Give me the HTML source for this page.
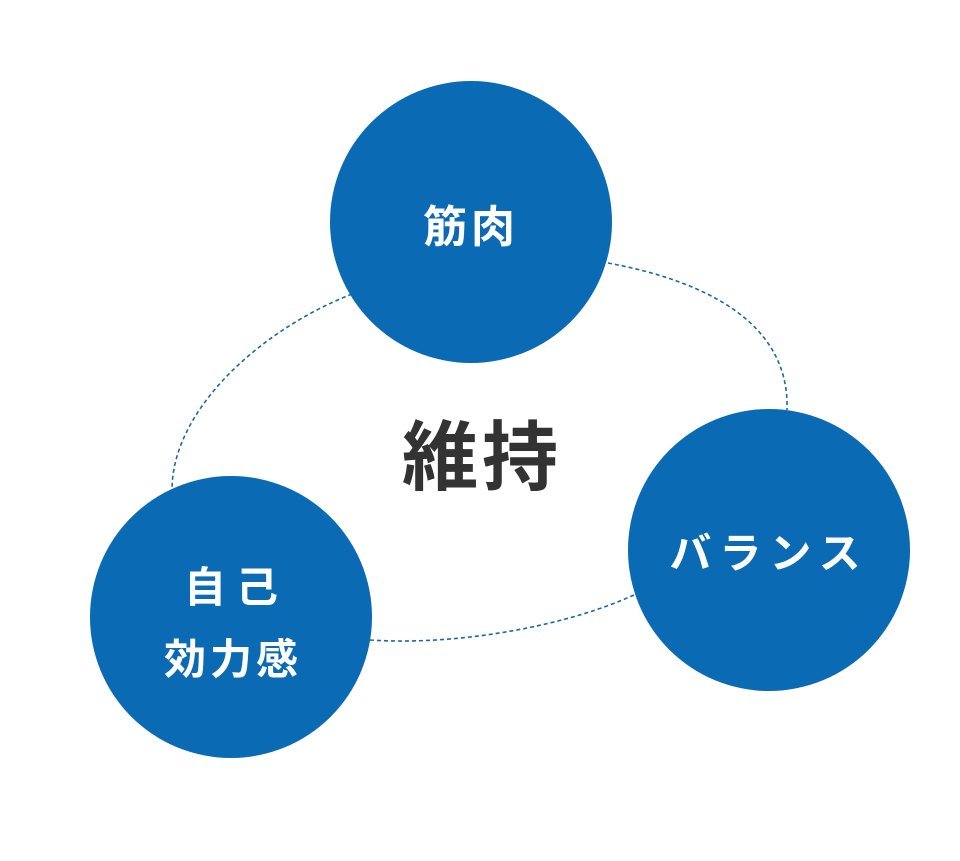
<!DOCTYPE html>
<html><head><meta charset="utf-8"><style>
html,body{margin:0;padding:0;background:#fff;}
svg text{font-family:"Liberation Sans","Noto Sans CJK JP",sans-serif;font-weight:bold;}
</style></head><body>
<svg width="960" height="856" viewBox="0 0 960 856" xmlns="http://www.w3.org/2000/svg">
<g fill="none" stroke="#1c68a6" stroke-width="1.6" stroke-dasharray="4 3">
<path d="M 352,294 C 260,330 172,410 172,490"/>
<path d="M 370,640 C 460,646 570,625 636,594"/>
<path d="M 608,263 C 700,280 790,320 787,410"/>
</g>
<circle cx="471" cy="222" r="141" fill="#0a6ab3"/>
<circle cx="769" cy="550" r="141" fill="#0a6ab3"/>
<circle cx="231" cy="617" r="141" fill="#0a6ab3"/>
<text x="482" y="484" font-size="76" fill="#333" text-anchor="middle" letter-spacing="4">維持</text>
<text x="471" y="242" font-size="44" fill="#fff" text-anchor="middle" letter-spacing="4">筋肉</text>
<text x="769" y="568" font-size="42" fill="#fff" text-anchor="middle" letter-spacing="8">バランス</text>
<text x="236" y="602" font-size="42" fill="#fff" text-anchor="middle" letter-spacing="10">自己</text>
<text x="233" y="674" font-size="42" fill="#fff" text-anchor="middle" letter-spacing="4">効力感</text>
</svg>
</body></html>
